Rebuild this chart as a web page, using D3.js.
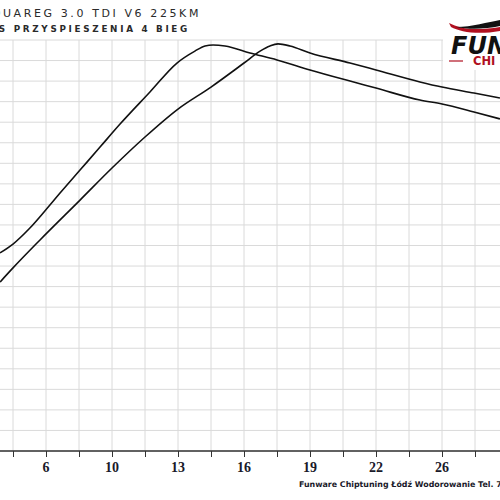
<!DOCTYPE html>
<html><head><meta charset="utf-8">
<script src="https://cdn.jsdelivr.net/npm/d3@7"></script>
<style>html,body{margin:0;padding:0;background:#fff;overflow:hidden}</style>
</head><body>
<script>
const titleLines = ["VW TOUAREG 3.0 TDI V6 225KM", "CZAS PRZYSPIESZENIA 4 BIEG"];
const footer = "Funware Chiptuning Łódź Wodorowanie Tel. 7";
const tickLabelValues = [6.4, 9.6, 12.8, 16.0, 19.2, 22.4, 25.6];
const tickLabels = ["6", "10", "13", "16", "19", "22", "26"];
const seriesAX = [4.17, 4.80, 5.62, 6.59, 7.08, 8.05, 9.02, 9.99, 11.44, 12.75, 13.62, 14.11, 14.50, 15.08, 16.29, 17.60, 19.20, 21.14, 22.40, 24.53, 25.60, 27.15, 28.41];
const seriesAY = [96.4, 100.7, 108.5, 119.7, 125.5, 136.7, 147.9, 159.1, 174.7, 188.8, 194.6, 197.1, 197.6, 197.1, 193.7, 190.3, 185.4, 180.0, 176.6, 170.8, 168.9, 165.0, 161.6];
const seriesBX = [4.17, 4.80, 6.11, 8.05, 9.60, 11.20, 12.80, 14.40, 16.00, 16.78, 17.26, 17.65, 18.23, 19.20, 21.14, 22.40, 24.53, 25.60, 27.15, 28.41];
const seriesBY = [82.2, 89.1, 102.7, 122.1, 137.7, 152.8, 166.4, 177.1, 188.8, 194.6, 197.1, 198.1, 197.1, 193.7, 188.8, 185.4, 179.6, 177.1, 174.2, 171.8];

const W = 500, H = 500;
const svg = d3.select("body").append("svg").attr("width", W).attr("height", H);

const x = d3.scaleLinear().domain([4.8, 28.8]).range([13, 508]);
const y = d3.scaleLinear().domain([0, 200]).range([451, 40]);

const grid = svg.append("g");
const xGridAll = d3.range(0, 17).map(i => 3.2 + 1.6 * i);
grid.selectAll("line.v").data(xGridAll).enter().append("line")
  .attr("x1", d => x(d)).attr("x2", d => x(d))
  .attr("y1", y(200)).attr("y2", y(0))
  .attr("stroke", "#dadada").attr("stroke-width", 1);
grid.selectAll("line.h").data(d3.range(0, 201, 10)).enter().append("line")
  .attr("x1", -20).attr("x2", 520)
  .attr("y1", d => y(d)).attr("y2", d => y(d))
  .attr("stroke", "#dadada").attr("stroke-width", 1);

// axis
const axis = d3.axisBottom(x).tickValues(xGridAll).tickSize(6).tickFormat("");
const ax = svg.append("g").attr("transform", `translate(0,${y(0)})`).call(axis);
ax.select(".domain").attr("stroke", "#333").attr("stroke-width", 1.5).attr("d", "M-20,0H520");
ax.selectAll(".tick line").attr("stroke", "#333").attr("stroke-width", 1);

svg.selectAll("text.tl").data(tickLabelValues).enter().append("text")
  .attr("x", d => x(d)).attr("y", 471.5)
  .attr("text-anchor", "middle")
  .attr("font-family", "Liberation Serif, serif").attr("font-weight", "bold")
  .attr("font-size", 14).attr("fill", "#1a1a2a")
  .text((d, i) => tickLabels[i]);

// curves
const line = d3.line().x(d => x(d[0])).y(d => y(d[1])).curve(d3.curveMonotoneX);
const dataA = seriesAX.map((v, i) => [v, seriesAY[i]]);
const dataB = seriesBX.map((v, i) => [v, seriesBY[i]]);
[dataA, dataB].forEach(d => {
  svg.append("path").datum(d).attr("d", line)
    .attr("fill", "none").attr("stroke", "#111").attr("stroke-width", 1.6);
});

// titles
svg.append("text").attr("x", 201).attr("y", 17).attr("text-anchor", "end")
  .attr("font-family", "DejaVu Sans, sans-serif").attr("font-size", 11)
  .attr("letter-spacing", 2.6).attr("fill", "#2a2a2a").text(titleLines[0]);
svg.append("text").attr("x", 190).attr("y", 31.5).attr("text-anchor", "end")
  .attr("font-family", "DejaVu Sans, sans-serif").attr("font-size", 8.8)
  .attr("font-weight", "bold")
  .attr("letter-spacing", 2.7).attr("fill", "#2a2a2a").text(titleLines[1]);

// footer
svg.append("text").attr("x", 299).attr("y", 486.5)
  .attr("font-family", "DejaVu Sans, sans-serif").attr("font-weight", "bold")
  .attr("font-size", 7.9).attr("fill", "#1a1a2a").text(footer);

// logo
const logo = svg.append("g");
logo.append("rect").attr("x", 443).attr("y", 0).attr("width", 60).attr("height", 70).attr("fill", "#fff");
logo.append("path").attr("d", "M449,23 C460,29 476,31 500,27 L500,31 C478,35 460,32 451,27 Z").attr("fill", "#b01020");
logo.append("path").attr("d", "M456,27 C472,27 488,22 500,20 L500,26 C486,29 470,30 456,27 Z").attr("fill", "#111");
logo.append("text").attr("x", 451).attr("y", 53.5)
  .attr("font-family", "DejaVu Sans, sans-serif").attr("font-weight", "bold").attr("font-style", "italic")
  .attr("font-size", 24).attr("fill", "#111").text("FUN");
logo.append("line").attr("x1", 449).attr("x2", 463).attr("y1", 61).attr("y2", 61)
  .attr("stroke", "#b01020").attr("stroke-width", 1.2);
logo.append("text").attr("x", 473).attr("y", 65)
  .attr("font-family", "DejaVu Sans, sans-serif").attr("font-weight", "bold")
  .attr("font-size", 11.5).attr("fill", "#b01020").text("CHI");
</script>
</body></html>
